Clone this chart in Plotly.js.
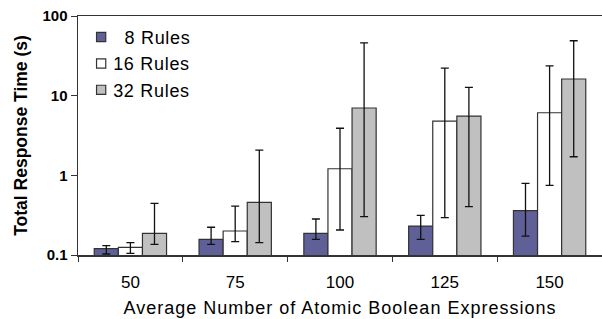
<!DOCTYPE html>
<html>
<head>
<meta charset="utf-8">
<script src="https://cdn.plot.ly/plotly-3.0.1.min.js"></script>
<style>
html,body{margin:0;padding:0;background:#fff;}
#chart{width:602px;height:319px;}
#chart .xtitle{letter-spacing:1px;}
#chart .legendtext{letter-spacing:0.7px; translate:-8px 0;}
#chart .legendpoints path{d:path("M4.6,4.6H-4.6V-4.6H4.6Z");}
</style>
</head>
<body>
<div id="chart"></div>
<script>
var categories = ["50", "75", "100", "125", "150"];
var seriesNames = ["\u00a0\u00a08 Rules", "16 Rules", "32 Rules"];

var rules8 = [0.12, 0.157, 0.187, 0.231, 0.36];
var rules8Hi = [0.131, 0.223, 0.283, 0.315, 0.794];
var rules8Lo = [0.103, 0.136, 0.157, 0.157, 0.173];

var rules16 = [0.125, 0.2, 1.21, 4.8, 6.1];
var rules16Hi = [0.143, 0.41, 3.9, 22.2, 23.7];
var rules16Lo = [0.105, 0.147, 0.206, 0.294, 0.75];

var rules32 = [0.187, 0.458, 7.0, 5.55, 16.2];
var rules32Hi = [0.445, 2.07, 46.1, 12.7, 48.9];
var rules32Lo = [0.136, 0.143, 0.303, 0.404, 1.71];

var yTickVals = [0.1, 1, 10, 100];
var yTickText = ["0.1", "1", "10", "100"];

var colors = ["#606098", "#ffffff", "#c0c0c0"];

function diff(a, b) { return a.map(function (v, i) { return v - b[i]; }); }

function makeTrace(name, vals, hi, lo, color) {
  return {
    type: "bar",
    name: name,
    x: categories,
    y: vals,
    marker: { color: color, line: { color: "#333333", width: 1.2 } },
    error_y: {
      type: "data",
      symmetric: false,
      array: diff(hi, vals),
      arrayminus: diff(vals, lo),
      color: "#111111",
      thickness: 1.3,
      width: 4
    }
  };
}

var data = [
  makeTrace(seriesNames[0], rules8, rules8Hi, rules8Lo, colors[0]),
  makeTrace(seriesNames[1], rules16, rules16Hi, rules16Lo, colors[1]),
  makeTrace(seriesNames[2], rules32, rules32Hi, rules32Lo, colors[2])
];

var FONT = "Liberation Sans, Arial, sans-serif";

var layout = {
  width: 602,
  height: 319,
  margin: { l: 78, r: 0, t: 16, b: 64 },
  paper_bgcolor: "#ffffff",
  plot_bgcolor: "#ffffff",
  font: { family: FONT, color: "#000000" },
  barmode: "group",
  bargap: 0.31,
  bargroupgap: 0,
  showlegend: true,
  legend: {
    x: 0.006, y: 0.988, xanchor: "left", yanchor: "top",
    bgcolor: "rgba(0,0,0,0)",
    font: { size: 18, family: FONT, color: "#000" },
    tracegroupgap: 0,
    itemwidth: 30
  },
  xaxis: {
    type: "category",
    showline: true,
    linecolor: "#333333",
    linewidth: 1.5,
    mirror: true,
    ticks: "outside",
    tickson: "boundaries",
    ticklen: 5,
    tickcolor: "#333333",
    showgrid: false,
    ticklabelstandoff: 11,
    tickfont: { size: 17, family: FONT },
    title: { text: "Average Number of Atomic Boolean Expressions", font: { size: 18, family: FONT }, standoff: 10 },
    automargin: false
  },
  yaxis: {
    type: "log",
    range: [-1, 2],
    tickvals: yTickVals,
    ticktext: yTickText,
    showline: true,
    linecolor: "#333333",
    linewidth: 1.5,
    ticks: "outside",
    ticklen: 6,
    tickcolor: "#333333",
    showgrid: false,
    zeroline: false,
    tickfont: { size: 15, family: FONT, weight: "bold" },
    title: { text: "Total Response Time (s)", font: { size: 17.5, family: FONT, weight: "bold" }, standoff: 10 },
    automargin: false
  }
};

Plotly.newPlot("chart", data, layout, { displayModeBar: false, staticPlot: true });
</script>
</body>
</html>
